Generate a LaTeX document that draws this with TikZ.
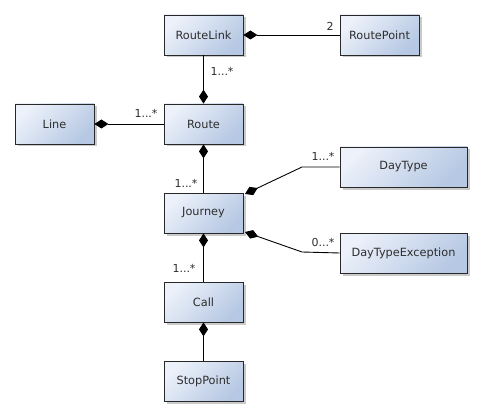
\documentclass[tikz,border=0pt]{standalone}
\usepackage{fontspec}
\setmainfont{DejaVu Sans}
\usetikzlibrary{arrows.meta,shadows}
\definecolor{boxlight}{RGB}{236,241,250}
\definecolor{boxdark}{RGB}{182,200,227}
\definecolor{boxline}{RGB}{40,40,40}
\definecolor{txt}{RGB}{45,45,45}
\tikzset{
  umlbox/.style={draw=boxline, line width=0.8pt, minimum height=40pt, minimum width=79pt,
    inner sep=0pt, top color=boxlight, bottom color=boxdark, shading angle=45,
    text=txt, font=\fontsize{11.3}{13}\selectfont,
    drop shadow={shadow xshift=2.5pt, shadow yshift=-2.5pt, opacity=0.35, fill=black!60}},
  widebox/.style={umlbox, minimum width=127pt},
  assoc/.style={line width=0.9pt, black, {Diamond[length=14pt,width=9pt]}-},
  mult/.style={font=\fontsize{11}{13}\selectfont, text=txt, inner sep=0pt}
}
\begin{document}
\begin{tikzpicture}[x=1pt,y=-1pt]
\useasboundingbox (0,0) rectangle (482,417);
\node[umlbox] (routelink) at (203.5,35) {RouteLink};
\node[umlbox] (routepoint) at (379.5,35) {RoutePoint};
\node[umlbox] (line) at (54.5,124) {Line};
\node[umlbox] (route) at (203.5,124) {Route};
\node[widebox] (daytype) at (403.5,167) {DayType};
\node[umlbox] (journey) at (203.5,213) {Journey};
\node[widebox] (dte) at (403.5,253) {DayTypeException};
\node[umlbox] (call) at (203.5,302) {Call};
\node[umlbox] (stoppoint) at (203.5,381) {StopPoint};

\coordinate (j1) at (245,194);
\coordinate (b1) at (302,167);
\coordinate (j2) at (245,232);
\coordinate (b2) at (302,252);

\draw[assoc] (routelink.east) -- (routepoint.west);
\draw[assoc] (route.north) -- (routelink.south);
\draw[assoc] (line.east) -- (route.west);
\draw[assoc] (route.south) -- (journey.north);
\draw[assoc] (j1) -- (b1) -- (daytype.west);
\draw[assoc] (j2) -- (b2) -- (dte.west);
\draw[assoc] (journey.south) -- (call.north);
\draw[assoc] (call.south) -- (stoppoint.north);

\node[mult] (m1) at (330,26) {2};
\node[mult] (m2) at (222,71) {1...*};
\node[mult] (m3) at (146,113) {1...*};
\node[mult] (m4) at (186,183) {1...*};
\node[mult] (m5) at (323,156) {1...*};
\node[mult] (m6) at (323,242) {0...*};
\node[mult] (m7) at (184,268) {1...*};
\end{tikzpicture}
\end{document}
